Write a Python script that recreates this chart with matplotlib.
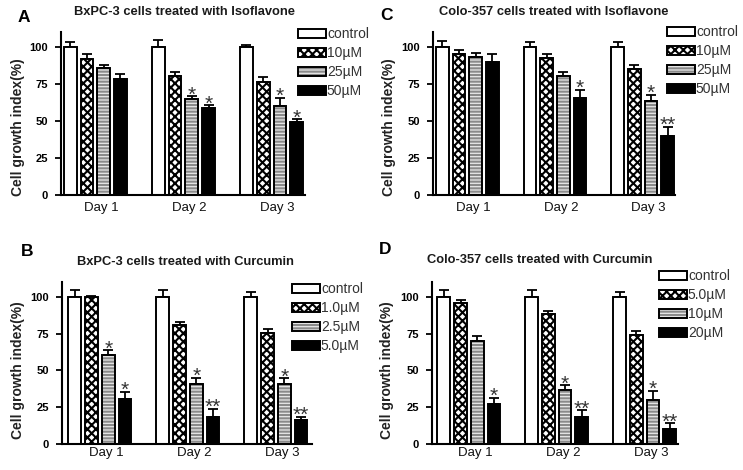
import matplotlib
matplotlib.use('Agg')
import matplotlib.pyplot as plt
from matplotlib.patches import Patch
import numpy as np

plt.rcParams['font.family'] = ['Liberation Sans', 'DejaVu Sans']
plt.rcParams['hatch.linewidth'] = 1.5

days = ['Day 1', 'Day 2', 'Day 3']

# A - BxPC-3 + isoflavone
bx_iso_labels = ['control', '10µM', '25µM', '50µM']
bx_iso_mean = [[100, 100, 100], [92, 80, 76.5], [85.5, 64.5, 60], [78, 58.5, 49.5]]
bx_iso_err = [[3, 4.5, 1.5], [3, 3, 3], [2.5, 2, 5.5], [3.5, 2, 1.5]]
bx_iso_star = [['', '', ''], ['', '', ''], ['', '*', '*'], ['', '*', '*']]

# C - Colo-357 + isoflavone
co_iso_labels = ['control', '10µM', '25µM', '50µM']
co_iso_mean = [[100, 100, 100], [95, 92.5, 85], [93, 80, 63.5], [90, 65.5, 40]]
co_iso_err = [[4, 3.5, 3], [3, 2.5, 2.5], [2.5, 3, 4], [5, 5.5, 6]]
co_iso_star = [['', '', ''], ['', '', ''], ['', '', '*'], ['', '*', '**']]

# B - BxPC-3 + curcumin
bx_cur_labels = ['control', '1.0µM', '2.5µM', '5.0µM']
bx_cur_mean = [[100, 100, 100], [100, 80.5, 75.5], [60.5, 40.5, 40.5], [30.5, 18.5, 16.5]]
bx_cur_err = [[4.5, 4.5, 3], [0.8, 2.5, 2.5], [3, 4.5, 4], [5, 5.5, 2]]
bx_cur_star = [['', '', ''], ['', '', ''], ['*', '*', '*'], ['*', '**', '**']]

# D - Colo-357 + curcumin
co_cur_labels = ['control', '5.0µM', '10µM', '20µM']
co_cur_mean = [[100, 100, 100], [96, 88.5, 74], [70, 37, 30], [27, 18, 10]]
co_cur_err = [[4.5, 4.5, 3], [2, 1.5, 2.5], [3, 3, 6], [4.5, 5, 4]]
co_cur_star = [['', '', ''], ['', '', ''], ['', '*', '*'], ['*', '**', '**']]

W, H = 743, 470
fig = plt.figure(figsize=(W / 100, H / 100), dpi=100)

pitch = 0.19
bw = 0.145
styles = [
    dict(face='white', hatch=None, hcol='black'),
    dict(face='white', hatch='xxxx', hcol='black'),
    dict(face='#e8e8e8', hatch='-----', hcol='#8a8a8a'),
    dict(face='black', hatch=None, hcol='black'),
]


def fx(px):
    return px / W


def fy(py):
    return 1 - py / H


def panel(box, xlim, mean, err, star, labels, title, letter, leg_xy, title_xy, letter_xy, ylab_xy, xpad):
    l, t, r, b = box
    ax = fig.add_axes([fx(l), fy(b), (r - l) / W, (b - t) / H])
    x = np.arange(3)
    for i in range(4):
        st = styles[i]
        xs = x + (i - 1.5) * pitch
        ax.bar(xs, mean[i], bw, color=st['face'], hatch=st['hatch'],
               edgecolor=st['hcol'], linewidth=0, zorder=2)
        ax.bar(xs, mean[i], bw, fill=False, edgecolor='black', linewidth=1.4, zorder=3)
        ax.errorbar(xs, mean[i], yerr=[[0, 0, 0], err[i]], fmt='none',
                    ecolor='black', elinewidth=1.3, capsize=3.5, capthick=1.3, zorder=1)
        for j in range(3):
            if star[i][j]:
                ax.annotate(star[i][j], (xs[j], mean[i][j] + err[i][j]), xytext=(0, -6),
                            textcoords='offset points', ha='center', va='bottom',
                            fontsize=15, color='#333333')
    ax.set_xlim(*xlim)
    ax.set_ylim(0, 110)
    ax.set_yticks([0, 25, 50, 75, 100])
    ax.set_xticks(x + 0.07)
    ax.set_xticklabels(days, fontsize=9.5, color='#111111')
    ax.tick_params(axis='x', length=0, pad=xpad)
    ax.tick_params(axis='y', length=4.5, width=1.3, pad=5, labelsize=8)
    for tl in ax.get_yticklabels():
        tl.set_fontweight('bold')
    ax.spines['top'].set_visible(False)
    ax.spines['right'].set_visible(False)
    ax.spines['left'].set_linewidth(1.5)
    ax.spines['bottom'].set_linewidth(1.5)

    handles = []
    for st in styles:
        h1 = Patch(facecolor=st['face'], hatch=st['hatch'], edgecolor=st['hcol'], linewidth=0)
        h2 = Patch(fill=False, edgecolor='black', linewidth=1.4)
        handles.append((h1, h2))
    ax.legend(handles, labels, loc='upper left', bbox_to_anchor=(fx(leg_xy[0]), fy(leg_xy[1])),
              bbox_transform=fig.transFigure, frameon=False, fontsize=10,
              handlelength=2.0, handleheight=0.6, handletextpad=0.08,
              labelspacing=0.36, borderpad=0, borderaxespad=0, labelcolor='#333333')

    fig.text(fx(title_xy[0]), fy(title_xy[1]), title, ha='center', va='center',
             fontsize=9.3, fontweight='bold', color='#1a1a1a')
    fig.text(fx(letter_xy[0]), fy(letter_xy[1]), letter, ha='center', va='center',
             fontsize=12.5, fontweight='bold')
    fig.text(fx(ylab_xy[0]), fy(ylab_xy[1]), 'Cell growth index(%)', ha='center', va='center',
             rotation=90, fontsize=10, fontweight='bold', color='#222222')
    return ax


panel((61, 32, 305, 195), (-0.39, 2.38), bx_iso_mean, bx_iso_err, bx_iso_star, bx_iso_labels,
      'BxPC-3 cells treated with Isoflavone', 'A', (298, 27), (185, 12), (24, 18), (18, 127), 5)
panel((433, 32, 675, 195), (-0.39, 2.37), co_iso_mean, co_iso_err, co_iso_star, co_iso_labels,
      'Colo-357 cells treated with Isoflavone', 'C', (667, 25), (554, 12), (386, 16), (389, 127), 5)
panel((62, 282, 312, 444), (-0.43, 2.41), bx_cur_mean, bx_cur_err, bx_cur_star, bx_cur_labels,
      'BxPC-3 cells treated with Curcumin', 'B', (292, 282), (185, 262), (27, 251), (18, 370), 2)
panel((432, 282, 678, 444), (-0.42, 2.38), co_cur_mean, co_cur_err, co_cur_star, co_cur_labels,
      'Colo-357 cells treated with Curcumin', 'D', (659, 269), (540, 260), (385, 250), (387, 370), 2)

fig.savefig('out.png', dpi=100)
